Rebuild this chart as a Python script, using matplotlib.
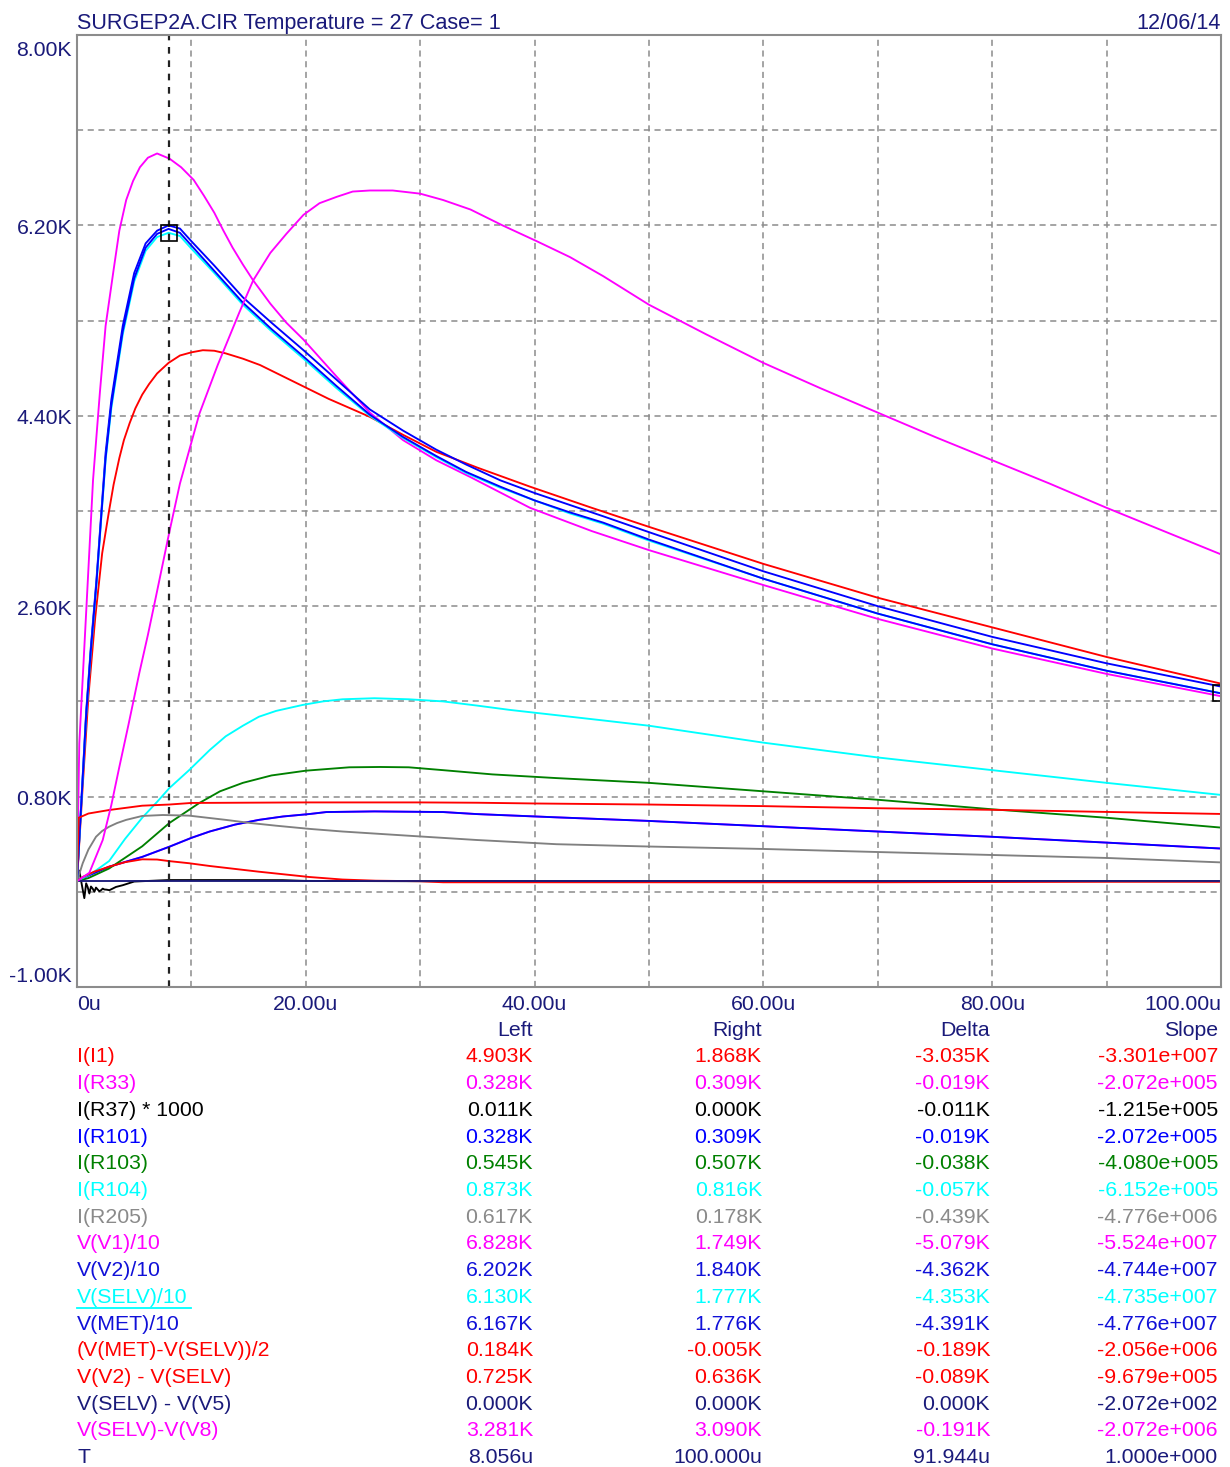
import matplotlib
matplotlib.use('Agg')
import matplotlib.pyplot as plt
from matplotlib.lines import Line2D

plt.rcParams['font.family'] = ['Liberation Sans', 'DejaVu Sans']

# ---------------- data (values in K, time in us) ----------------
t_i1 = [0, 0.5, 1.0, 1.6, 2.2, 2.8, 3.2, 3.7, 4.1, 4.6, 5.1, 5.7, 6.3, 7.0, 8.0, 9.0, 10.0, 11.0, 12.0, 13.0, 14.5, 16.0, 17.5, 19.0, 22.0, 25.6, 28.5, 31.4, 35.0, 39.6, 45.0, 50, 60, 70, 80, 90, 100]
v_i1 = [0, 0.9, 1.75, 2.5, 3.1, 3.5, 3.75, 4.0, 4.17, 4.33, 4.47, 4.6, 4.7, 4.8, 4.9, 4.97, 5.0, 5.02, 5.015, 4.99, 4.94, 4.88, 4.8, 4.72, 4.56, 4.39, 4.22, 4.06, 3.91, 3.73, 3.53, 3.35, 3.0, 2.68, 2.4, 2.12, 1.868]

t_r101 = [0, 0.5, 2.8, 5.7, 8.07, 10.0, 11.6, 13.8, 15.9, 18.0, 20.3, 21.8, 26, 32, 34.9, 41.9, 50, 60, 70, 80, 90, 100]
v_r101 = [0, 0.03, 0.137, 0.23, 0.326, 0.41, 0.47, 0.535, 0.58, 0.612, 0.635, 0.654, 0.66, 0.654, 0.635, 0.604, 0.57, 0.52, 0.47, 0.42, 0.365, 0.309]
t_r33 = [0, 0.5, 2.8, 5.7, 8.07, 10.0, 11.6, 13.8, 15.9, 18.0, 20.3, 21.8, 26, 32, 34.9, 41.9, 50, 60, 70, 80, 90, 100]
v_r33 = [0, 0.03, 0.137, 0.23, 0.326, 0.41, 0.47, 0.535, 0.58, 0.612, 0.635, 0.654, 0.66, 0.654, 0.635, 0.604, 0.57, 0.52, 0.47, 0.42, 0.365, 0.309]

t_r37 = [0, 0.2, 0.45, 0.64, 0.8, 0.93, 1.08, 1.22, 1.37, 1.52, 1.66, 1.81, 1.95, 2.1, 2.25, 2.39, 2.6, 2.83, 3.41, 3.99, 5.0, 8.0, 12, 18, 20, 30, 100]
v_r37 = [0, 0.1, -0.05, -0.16, -0.02, -0.054, -0.116, -0.05, -0.07, -0.1, -0.06, -0.078, -0.095, -0.085, -0.07, -0.078, -0.08, -0.085, -0.054, -0.038, -0.003, 0.011, 0.011, 0.01, 0.003, 0, 0]

t_r103 = [0, 1.0, 2.8, 5.7, 8.07, 10.7, 12.5, 14.5, 17.0, 20, 23.8, 26.5, 29, 32, 36.3, 41.9, 50, 60, 70, 80, 90, 100]
v_r103 = [0, 0.03, 0.12, 0.33, 0.55, 0.74, 0.85, 0.93, 1.0, 1.045, 1.077, 1.08, 1.077, 1.05, 1.01, 0.975, 0.93, 0.85, 0.77, 0.68, 0.6, 0.507]

t_r104 = [0, 0.5, 1.5, 2.8, 4.2, 5.7, 7.0, 8.07, 9.8, 11.6, 13, 14.5, 15.9, 17.4, 19.7, 21.5, 23.2, 26, 29, 32, 35, 37.8, 41.9, 46, 50, 60, 70, 80, 90, 100]
v_r104 = [0, 0.03, 0.09, 0.19, 0.4, 0.6, 0.75, 0.88, 1.05, 1.24, 1.37, 1.47, 1.555, 1.61, 1.666, 1.7, 1.72, 1.73, 1.72, 1.70, 1.66, 1.62, 1.57, 1.52, 1.47, 1.31, 1.17, 1.05, 0.93, 0.816]

t_r205 = [0, 0.5, 1.0, 1.66, 2.2, 2.8, 3.5, 4.3, 5.7, 7.5, 9.8, 11.4, 13, 15.2, 17.4, 20.3, 23.2, 29, 34.9, 41.9, 50, 60, 70, 80, 90, 100]
v_r205 = [0, 0.17, 0.3, 0.42, 0.475, 0.515, 0.55, 0.58, 0.617, 0.626, 0.62, 0.6, 0.58, 0.55, 0.525, 0.495, 0.47, 0.43, 0.39, 0.35, 0.328, 0.305, 0.276, 0.248, 0.22, 0.178]

t_v1 = [0, 0.2, 0.8, 1.4, 2.0, 2.5, 3.2, 3.7, 4.3, 4.9, 5.5, 6.2, 7.0, 8.1, 9.1, 10.2, 11.1, 12.0, 12.8, 13.6, 14.5, 15.4, 16.9, 18.3, 19.8, 22.7, 25.6, 28.5, 31.4, 34.4, 39.6, 45, 50, 60, 70, 80, 90, 100]
v_v1 = [0, 1.3, 2.54, 3.79, 4.62, 5.25, 5.78, 6.15, 6.44, 6.62, 6.75, 6.84, 6.88, 6.83, 6.75, 6.63, 6.48, 6.32, 6.15, 5.99, 5.83, 5.68, 5.46, 5.28, 5.12, 4.77, 4.43, 4.17, 3.98, 3.82, 3.53, 3.31, 3.13, 2.80, 2.48, 2.2, 1.96, 1.749]

t_v2 = [0, 0.5, 0.8, 1.2, 1.7, 2.1, 2.5, 3.0, 4.0, 5.0, 6.0, 7.0, 8.0, 9.0, 10.0, 12.0, 14.5, 17.0, 19.8, 22.7, 25.6, 28.5, 31.4, 34.0, 37.0, 40.0, 43.0, 46.0, 50, 60, 70, 80, 90, 100]
v_v2 = [0, 1.0, 1.6, 2.2, 2.85, 3.45, 4.05, 4.55, 5.25, 5.75, 6.03, 6.15, 6.2, 6.17, 6.05, 5.82, 5.52, 5.28, 5.02, 4.74, 4.46, 4.26, 4.08, 3.94, 3.79, 3.67, 3.56, 3.45, 3.3, 2.93, 2.6, 2.31, 2.06, 1.84]
v_met = [0, 0.98, 1.57, 2.17, 2.82, 3.42, 4.0, 4.5, 5.2, 5.7, 5.99, 6.12, 6.167, 6.13, 6.01, 5.77, 5.47, 5.22, 4.96, 4.68, 4.41, 4.2, 4.02, 3.87, 3.73, 3.6, 3.49, 3.39, 3.23, 2.86, 2.53, 2.24, 1.99, 1.776]
v_selv = [0, 0.97, 1.55, 2.15, 2.8, 3.4, 3.98, 4.47, 5.17, 5.67, 5.96, 6.09, 6.13, 6.1, 5.98, 5.75, 5.45, 5.2, 4.94, 4.66, 4.4, 4.19, 4.01, 3.86, 3.72, 3.6, 3.48, 3.38, 3.22, 2.86, 2.53, 2.24, 1.99, 1.777]

t_mdiff = [0, 0.5, 1.5, 2.8, 4.2, 5.7, 7.0, 8.07, 9.8, 11.6, 15.9, 20.3, 23.2, 26.1, 30, 32, 50, 70, 90, 100]
v_mdiff = [0, 0.04, 0.09, 0.137, 0.18, 0.207, 0.205, 0.19, 0.17, 0.144, 0.09, 0.04, 0.016, 0.005, 0.0, -0.01, -0.01, -0.01, -0.005, -0.005]

t_v2d = [0, 0.15, 1.0, 2.8, 5.7, 8.07, 10, 20, 30, 35, 40, 50, 60, 70, 80, 90, 100]
v_v2d = [0, 0.6, 0.64, 0.673, 0.714, 0.725, 0.74, 0.745, 0.745, 0.742, 0.735, 0.725, 0.71, 0.69, 0.675, 0.655, 0.636]

t_v5 = [0, 100]
v_v5 = [0, 0]

t_v8 = [0, 1.08, 2.25, 3.0, 3.7, 4.5, 5.45, 6.2, 6.9, 8.07, 9.0, 10.7, 12.3, 14.2, 15.4, 16.9, 18.3, 19.8, 21.2, 22.7, 24.1, 25.6, 27.6, 30, 32, 34.4, 37.2, 40.2, 43.1, 46, 50, 55, 60, 65, 70, 75, 80, 85, 90, 95, 100]
v_v8 = [0, 0.08, 0.39, 0.72, 1.08, 1.48, 1.97, 2.33, 2.69, 3.3, 3.76, 4.42, 4.88, 5.38, 5.68, 5.94, 6.12, 6.3, 6.41, 6.47, 6.52, 6.53, 6.53, 6.5, 6.44, 6.35, 6.2, 6.05, 5.9, 5.72, 5.45, 5.17, 4.9, 4.66, 4.43, 4.2, 3.98, 3.76, 3.53, 3.31, 3.09]

labels = ["I(I1)", "I(R33)", "I(R37) * 1000", "I(R101)", "I(R103)", "I(R104)", "I(R205)",
          "V(V1)/10", "V(V2)/10", "V(SELV)/10", "V(MET)/10", "(V(MET)-V(SELV))/2",
          "V(V2) - V(SELV)", "V(SELV) - V(V5)", "V(SELV)-V(V8)", "T"]
left_vals = ["4.903K", "0.328K", "0.011K", "0.328K", "0.545K", "0.873K", "0.617K", "6.828K", "6.202K",
             "6.130K", "6.167K", "0.184K", "0.725K", "0.000K", "3.281K", "8.056u"]
right_vals = ["1.868K", "0.309K", "0.000K", "0.309K", "0.507K", "0.816K", "0.178K", "1.749K", "1.840K",
              "1.777K", "1.776K", "-0.005K", "0.636K", "0.000K", "3.090K", "100.000u"]
delta_vals = ["-3.035K", "-0.019K", "-0.011K", "-0.019K", "-0.038K", "-0.057K", "-0.439K", "-5.079K", "-4.362K",
              "-4.353K", "-4.391K", "-0.189K", "-0.089K", "0.000K", "-0.191K", "91.944u"]
slope_vals = ["-3.301e+007", "-2.072e+005", "-1.215e+005", "-2.072e+005", "-4.080e+005", "-6.152e+005",
              "-4.776e+006", "-5.524e+007", "-4.744e+007", "-4.735e+007", "-4.776e+007", "-2.056e+006",
              "-9.679e+005", "-2.072e+002", "-2.072e+006", "1.000e+000"]
col_heads = ["Left", "Right", "Delta", "Slope"]
x_ticks = [0, 20, 40, 60, 80, 100]
x_tick_labels = ["0u", "20.00u", "40.00u", "60.00u", "80.00u", "100.00u"]
y_ticks = [-1.0, 0.8, 2.6, 4.4, 6.2, 8.0]
y_tick_labels = ["-1.00K", "0.80K", "2.60K", "4.40K", "6.20K", "8.00K"]
cursor_left = 8.056
cursor_right = 100.0
marker_left = 6.130
marker_right = 1.777

# ---------------- styles ----------------
RED = '#ff0000'; MAG = '#ff00ff'; BLK = '#000000'; BLU = '#0000ff'
GRN = '#008000'; CYN = '#00ffff'; GRY = '#808080'; NAVY = '#1a1a7a'
series = [
    (t_i1, v_i1, RED), (t_r33, v_r33, MAG), (t_r37, v_r37, BLK), (t_r101, v_r101, BLU),
    (t_r103, v_r103, GRN), (t_r104, v_r104, CYN), (t_r205, v_r205, GRY),
    (t_v1, v_v1, MAG), (t_v2, v_v2, BLU), (t_v2, v_selv, CYN), (t_v2, v_met, BLU),
    (t_mdiff, v_mdiff, RED), (t_v2d, v_v2d, RED), (t_v5, v_v5, NAVY), (t_v8, v_v8, MAG),
]
text_colors = [RED, MAG, BLK, BLU, GRN, CYN, '#8a8a8a', MAG, '#1010d8', CYN, '#1010d8', RED, RED, NAVY, MAG, NAVY]

W, H = 1230, 1467
fig = plt.figure(figsize=(W / 100, H / 100), dpi=100)
L, R, T, B = 77, 1221, 35, 987
ax = fig.add_axes([L / W, 1 - B / H, (R - L) / W, (B - T) / H])
ax.set_xlim(0, 100)
ax.set_ylim(-1.0, 8.0)

FS = 15.3
# grid
ax.set_xticks(x_ticks)
ax.set_xticks([10, 30, 50, 70, 90], minor=True)
ax.set_yticks(y_ticks)
ax.set_yticks([-0.1, 1.7, 3.5, 5.3, 7.1], minor=True)
ax.grid(True, which='both', color='#8c8c8c', linestyle=(0, (4, 3)), linewidth=1.1)
ax.set_xticklabels(x_tick_labels, fontsize=FS, color=NAVY)
ax.set_yticklabels([])
ax.tick_params(which='both', length=0)
ax.tick_params(axis='x', pad=5.5)
xl = ax.get_xticklabels()
xl[0].set_ha('left'); xl[-1].set_ha('right')
for s in ax.spines.values():
    s.set_color('#8c8c8c'); s.set_linewidth(1.5)

# y tick labels, placed through the axis transform, clamped inside the frame
for v, lab in zip(y_ticks, y_tick_labels):
    px = ax.transData.transform((0, v))[1]          # pixel y from bottom
    top_px = H - T
    bot_px = H - B
    px = min(max(px, bot_px + 14), top_px - 13) - 3
    fig.text(72 / W, px / H, lab, fontsize=FS, color=NAVY, ha='right', va='center')

for tt, vv, c in series:
    ax.plot(tt, vv, color=c, linewidth=1.35, solid_joinstyle='round')

# cursors
ax.axvline(cursor_left, color='#222222', linestyle=(0, (3, 3)), linewidth=1.6)
ax.plot([cursor_left], [marker_left], marker='s', markersize=11, mfc='none', mec='black', mew=1.2, clip_on=False)
ax.plot([cursor_right], [marker_right], marker='s', markersize=11, mfc='none', mec='black', mew=1.2)

# header
fig.text(L / W, 1 - 29 / H, "SURGEP2A.CIR Temperature = 27 Case= 1", fontsize=15.6, color=NAVY,
         ha='left', va='baseline')
fig.text(R / W, 1 - 29 / H, "12/06/14", fontsize=15.6, color=NAVY, ha='right', va='baseline')

# table
col_x = [533, 762, 990, 1218]
for cx, h in zip(col_x, col_heads):
    fig.text(cx / W, 1 - 1030 / H, h, fontsize=FS, color=NAVY, ha='right', va='center')
row0, dy = 1057, 26.7
for i, lab in enumerate(labels):
    y = 1 - (row0 + i * dy) / H
    c = text_colors[i]
    fig.text(L / W, y, lab, fontsize=FS, color=c, ha='left', va='center')
    for cx, vals in zip(col_x, [left_vals, right_vals, delta_vals, slope_vals]):
        fig.text(cx / W, y, vals[i], fontsize=FS, color=c, ha='right', va='center')
    if lab == "V(SELV)/10":
        fig.add_artist(Line2D([L / W, 191 / W], [1 - (row0 + i * dy + 11) / H] * 2,
                              color=CYN, linewidth=1.3, transform=fig.transFigure))

fig.savefig('out.png', dpi=100)
